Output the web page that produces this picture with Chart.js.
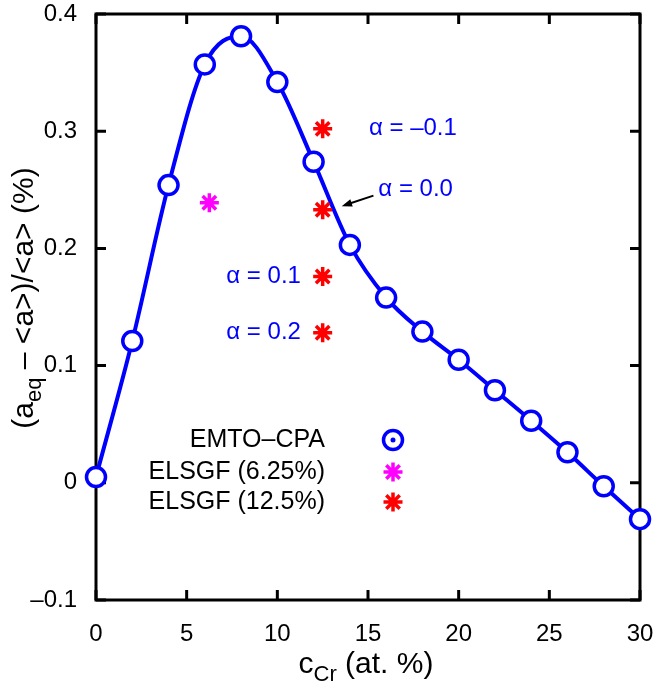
<!DOCTYPE html>
<html>
<head>
<meta charset="utf-8">
<script src="https://cdn.jsdelivr.net/npm/chart.js@4"></script>
<style>
  html, body { margin: 0; padding: 0; background: #fff; }
  #wrap { width: 658px; height: 686px; }
</style>
</head>
<body>
<div id="wrap"><canvas id="c" width="658" height="686"></canvas></div>
<script>
const FONT = '"Liberation Sans", Arial, Helvetica, sans-serif';
const BLUE = '#0000ff';

// EMTO-CPA
const cpaX = [0, 2, 4, 6, 8, 10, 12, 14, 16, 18, 20, 22, 24, 26, 28, 30];
const cpaY = [0.005, 0.121, 0.254, 0.357, 0.381, 0.342, 0.274, 0.203, 0.158, 0.129, 0.105, 0.079, 0.053, 0.026, -0.003, -0.031];
// ELSGF supercells
const sgf625X = [6.25];
const sgf625Y = [0.239];
const sgf125X = [12.5, 12.5, 12.5, 12.5];
const sgf125Y = [0.302, 0.233, 0.176, 0.128];
const alphaLabels = ['α = –0.1', 'α = 0.0', 'α = 0.1', 'α = 0.2'];

const xTicks = [0, 5, 10, 15, 20, 25, 30];
const yTicks = [-0.1, 0, 0.1, 0.2, 0.3, 0.4];

const pts = (xs, ys) => xs.map((x, i) => ({ x, y: ys[i] }));

// draws text pieces, [str, isSub]
function richText(ctx, pieces, x, y, size, align) {
  const subSize = Math.round(size * 0.72);
  let w = 0;
  pieces.forEach(p => { ctx.font = (p[1] ? subSize : size) + 'px ' + FONT; w += ctx.measureText(p[0]).width; });
  let cx = align === 'center' ? x - w / 2 : x;
  ctx.textAlign = 'left';
  ctx.textBaseline = 'alphabetic';
  pieces.forEach(p => {
    ctx.font = (p[1] ? subSize : size) + 'px ' + FONT;
    ctx.fillText(p[0], cx, p[1] ? y + 8 : y);
    cx += ctx.measureText(p[0]).width;
  });
}

const noPad = s => { s.paddingTop = 0; s.paddingBottom = 0; s.paddingLeft = 0; s.paddingRight = 0; };

function star(ctx, sx, sy, r) {
  const d = r * Math.SQRT1_2;
  ctx.beginPath();
  ctx.moveTo(sx - r, sy); ctx.lineTo(sx + r, sy);
  ctx.moveTo(sx, sy - r); ctx.lineTo(sx, sy + r);
  ctx.moveTo(sx - d, sy - d); ctx.lineTo(sx + d, sy + d);
  ctx.moveTo(sx - d, sy + d); ctx.lineTo(sx + d, sy - d);
  ctx.stroke();
}

const deco = {
  id: 'deco',
  beforeDatasetsDraw(chart) {
    const { ctx, chartArea: a, scales: { x, y } } = chart;
    ctx.save();
    ctx.strokeStyle = '#000';
    ctx.lineWidth = 3;
    ctx.lineCap = 'square';
    ctx.strokeRect(a.left, a.top, a.right - a.left, a.bottom - a.top);
    ctx.lineCap = 'butt';
    ctx.beginPath();
    xTicks.forEach(v => {
      const px = x.getPixelForValue(v);
      ctx.moveTo(px, a.bottom); ctx.lineTo(px, a.bottom - 10);
      ctx.moveTo(px, a.top); ctx.lineTo(px, a.top + 10);
    });
    yTicks.forEach(v => {
      const py = y.getPixelForValue(v);
      ctx.moveTo(a.left, py); ctx.lineTo(a.left + 10, py);
      ctx.moveTo(a.right, py); ctx.lineTo(a.right - 10, py);
    });
    ctx.stroke();
    ctx.restore();
  },
  afterDraw(chart) {
    const { ctx, chartArea: a, scales: { x, y } } = chart;
    ctx.save();
    ctx.fillStyle = '#000';
    // axis titles
    richText(ctx, [['c', false], ['Cr', true], [' (at. %)', false]], (a.left + a.right) / 2 - 2, 673, 30, 'center');
    ctx.translate(33, (a.top + a.bottom) / 2 - 9);
    ctx.rotate(-Math.PI / 2);
    richText(ctx, [['(a', false], ['eq', true], [' – <a>)/<a> (%)', false]], 0, 0, 30, 'center');
    ctx.restore();

    // alpha annotations
    ctx.save();
    ctx.fillStyle = BLUE;
    ctx.font = '24px ' + FONT;
    ctx.textBaseline = 'middle';
    ctx.textAlign = 'left';
    ctx.fillText(alphaLabels[0], x.getPixelForValue(15.05), y.getPixelForValue(sgf125Y[0]));
    ctx.fillText(alphaLabels[1], x.getPixelForValue(15.57), y.getPixelForValue(0.25));
    ctx.textAlign = 'right';
    ctx.fillText(alphaLabels[2], x.getPixelForValue(11.3), y.getPixelForValue(sgf125Y[2]));
    ctx.fillText(alphaLabels[3], x.getPixelForValue(11.3), y.getPixelForValue(sgf125Y[3]));
    // arrow
    const x0 = x.getPixelForValue(15.3), y0 = y.getPixelForValue(0.245);
    const x1 = x.getPixelForValue(13.55), y1 = y.getPixelForValue(0.236);
    const ang = Math.atan2(y1 - y0, x1 - x0);
    ctx.strokeStyle = '#000';
    ctx.fillStyle = '#000';
    ctx.lineWidth = 2;
    ctx.beginPath(); ctx.moveTo(x0, y0); ctx.lineTo(x1 - 6 * Math.cos(ang), y1 - 6 * Math.sin(ang)); ctx.stroke();
    ctx.beginPath();
    ctx.moveTo(x1, y1);
    ctx.lineTo(x1 - 11 * Math.cos(ang - 0.35), y1 - 11 * Math.sin(ang - 0.35));
    ctx.lineTo(x1 - 11 * Math.cos(ang + 0.35), y1 - 11 * Math.sin(ang + 0.35));
    ctx.closePath(); ctx.fill();
    ctx.restore();

    // legend
    ctx.save();
    const tx = 325, sx = 393;
    const rows = [440, 472, 502];
    ctx.font = '25px ' + FONT;
    ctx.fillStyle = '#000';
    ctx.textAlign = 'right';
    ctx.textBaseline = 'middle';
    chart.data.datasets.forEach((ds, i) => ctx.fillText(ds.label, tx, rows[i]));
    ctx.lineWidth = 3.5;
    ctx.strokeStyle = BLUE;
    ctx.beginPath(); ctx.arc(sx, rows[0], 9.5, 0, Math.PI * 2); ctx.stroke();
    ctx.fillStyle = BLUE;
    ctx.beginPath(); ctx.arc(sx, rows[0], 2.5, 0, Math.PI * 2); ctx.fill();
    ctx.lineWidth = 3.5;
    ctx.strokeStyle = '#ff00ff'; star(ctx, sx, rows[1], 9.5);
    ctx.strokeStyle = '#ff0000'; star(ctx, sx, rows[2], 9.5);
    ctx.restore();
  }
};

new Chart(document.getElementById('c'), {
  type: 'scatter',
  data: {
    datasets: [
      {
        label: 'EMTO–CPA', data: pts(cpaX, cpaY), showLine: true, cubicInterpolationMode: 'monotone',
        borderColor: BLUE, borderWidth: 4, pointRadius: 9.5, pointBorderWidth: 3.5,
        pointBackgroundColor: '#fff', pointBorderColor: BLUE, clip: false, order: 2
      },
      {
        label: 'ELSGF (6.25%)', data: pts(sgf625X, sgf625Y), pointStyle: 'star',
        pointRadius: 9.5, pointBorderWidth: 3.5, borderColor: '#ff00ff', backgroundColor: '#ff00ff', order: 1
      },
      {
        label: 'ELSGF (12.5%)', data: pts(sgf125X, sgf125Y), pointStyle: 'star',
        pointRadius: 9.5, pointBorderWidth: 3.5, borderColor: '#ff0000', backgroundColor: '#ff0000', order: 0
      }
    ]
  },
  options: {
    responsive: false,
    animation: false,
    layout: { padding: { left: 0, right: 18, top: 14, bottom: 0 } },
    plugins: { legend: { display: false }, tooltip: { enabled: false } },
    scales: {
      x: {
        type: 'linear', min: 0, max: 30,
        afterFit: s => { s.height = 86; noPad(s); },
        afterBuildTicks: s => { s.ticks = xTicks.map(v => ({ value: v })); },
        grid: { display: false, drawTicks: false }, border: { display: false },
        ticks: { font: { family: FONT, size: 24 }, color: '#000', padding: 20, maxRotation: 0 }
      },
      y: {
        type: 'linear', min: -0.1, max: 0.4,
        afterFit: s => { s.width = 96; noPad(s); },
        afterBuildTicks: s => { s.ticks = yTicks.map(v => ({ value: v })); },
        grid: { display: false, drawTicks: false }, border: { display: false },
        ticks: {
          font: { family: FONT, size: 24 }, color: '#000', padding: 19,
          callback: v => { const r = Math.round(v * 10) / 10; return r < 0 ? '–' + Math.abs(r) : String(r); }
        }
      }
    }
  },
  plugins: [deco]
});
</script>
</body>
</html>
